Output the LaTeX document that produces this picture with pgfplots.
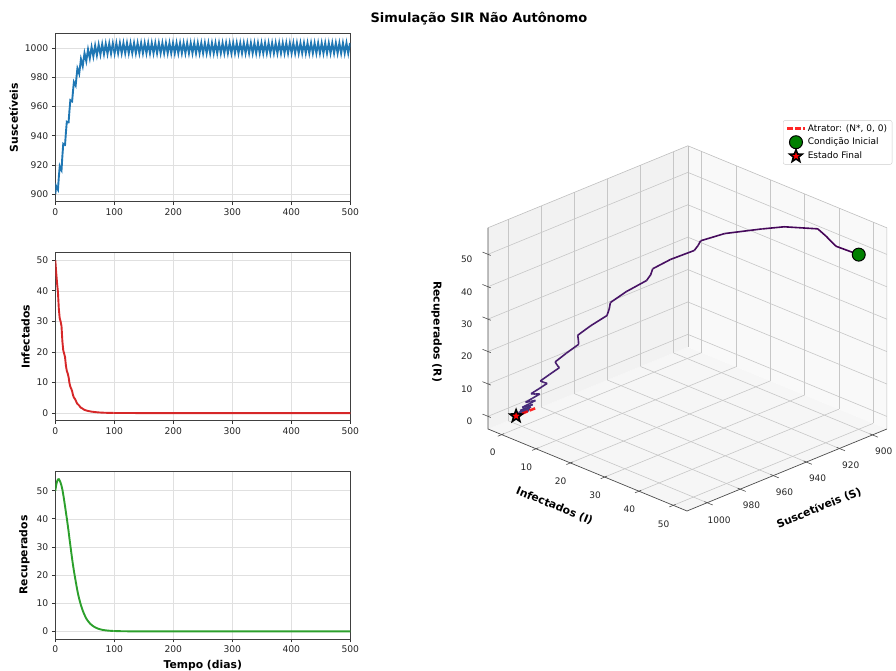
\documentclass[border=0pt]{standalone}
\usepackage{fontspec}
\setmainfont{DejaVu Sans}
\usepackage{pgfplots}
\usepackage{pgfplotstable}
\pgfplotsset{compat=1.18}
\usepgfplotslibrary{colormaps}
\definecolor{mplblue}{HTML}{1F77B4}
\definecolor{mplred}{HTML}{D62728}
\definecolor{mplgreen}{HTML}{2CA02C}
\definecolor{dkgreen}{HTML}{008000}

\pgfdeclareplotmark{fstar}{%
  \pgfpathmoveto{\pgfpointpolar{90}{\pgfplotmarksize}}%
  \pgfpathlineto{\pgfpointpolar{126}{0.42\pgfplotmarksize}}%
  \pgfpathlineto{\pgfpointpolar{162}{\pgfplotmarksize}}%
  \pgfpathlineto{\pgfpointpolar{198}{0.42\pgfplotmarksize}}%
  \pgfpathlineto{\pgfpointpolar{234}{\pgfplotmarksize}}%
  \pgfpathlineto{\pgfpointpolar{270}{0.42\pgfplotmarksize}}%
  \pgfpathlineto{\pgfpointpolar{306}{\pgfplotmarksize}}%
  \pgfpathlineto{\pgfpointpolar{342}{0.42\pgfplotmarksize}}%
  \pgfpathlineto{\pgfpointpolar{18}{\pgfplotmarksize}}%
  \pgfpathlineto{\pgfpointpolar{54}{0.42\pgfplotmarksize}}%
  \pgfpathclose
  \pgfusepathqfillstroke}

\pgfplotstableread{
t S I R
0 900.0 50.0 50.0
1.5 905.5 46.0 52.0
3 904.2 42.5 53.3
4.5 903.0 39.5 54.0
6 911.9 34.0 54.1
7.5 918.9 31.0 53.6
9 917.2 30.0 52.8
10.5 916.2 28.5 51.8
12 926.1 23.5 50.4
13.5 934.4 20.5 48.6
15 933.9 19.5 46.6
16.5 933.7 18.3 44.5
18 942.2 15.5 42.3
19.5 949.5 13.8 40.2
21 949.1 13.0 37.9
22.5 949.1 11.8 35.6
24 957.2 9.8 33.0
25.5 964.3 8.6 30.6
27 963.8 8.0 28.2
28.5 963.5 7.2 25.8
30 970.5 5.9 23.6
31.5 976.8 5.1 21.6
33 975.6 4.7 19.7
34.5 974.4 4.2 17.9
36 980.4 3.5 16.1
37.5 986.1 3.0 14.4
39 984.35 2.75 12.9
40.5 982.45 2.45 11.6
42 987.55 2.05 10.4
43.5 992.45 1.75 9.3
45 990.1 1.6 8.3
46.5 987.68 1.42 7.4
48 992.2 1.2 6.6
49.5 996.58 1.02 5.9
51 993.86 0.94 5.2
52.5 991.04 0.86 4.6
54 995.14 0.76 4.1
55.5 999.17 0.68 3.65
57 996.12 0.63 3.25
58.5 993.02 0.58 2.9
60 996.9 0.52 2.58
61.5 1000.74 0.46 2.3
63 997.52 0.43 2.05
64.5 994.28 0.39 1.83
66 998.02 0.35 1.63
67.5 1001.74 0.31 1.45
69 998.42 0.29 1.29
70.5 995.09 0.26 1.15
72 998.75 0.23 1.02
73.5 1002.38 0.21 0.91
75 999.0 0.19 0.81
76.5 995.61 0.17 0.72
78 999.2 0.155 0.64
79.5 1002.79 0.14 0.57
81 999.37 0.125 0.51
82.5 995.93 0.11 0.46
84 999.49 0.1 0.41
85.5 1003.04 0.09 0.37
87 999.59 0.082 0.33
88.5 996.13 0.074 0.3
90 999.66 0.066 0.27
91.5 1003.2 0.06 0.24
93 999.73 0.054 0.22
94.5 996.25 0.048 0.2
96 999.78 0.043 0.18
97.5 1003.3 0.039 0.16
99 999.82 0.035 0.15
}\tabA

\pgfplotstableread{
t S
99 999.82
100.5 996.3
103.5 1003.4
106.5 996.5
109.5 1003.5
112.5 996.5
115.5 1003.5
118.5 996.5
121.5 1003.5
124.5 996.5
127.5 1003.5
130.5 996.5
133.5 1003.5
136.5 996.5
139.5 1003.5
142.5 996.5
145.5 1003.5
148.5 996.5
151.5 1003.5
154.5 996.5
157.5 1003.5
160.5 996.5
163.5 1003.5
166.5 996.5
169.5 1003.5
172.5 996.5
175.5 1003.5
178.5 996.5
181.5 1003.5
184.5 996.5
187.5 1003.5
190.5 996.5
193.5 1003.5
196.5 996.5
199.5 1003.5
202.5 996.5
205.5 1003.5
208.5 996.5
211.5 1003.5
214.5 996.5
217.5 1003.5
220.5 996.5
223.5 1003.5
226.5 996.5
229.5 1003.5
232.5 996.5
235.5 1003.5
238.5 996.5
241.5 1003.5
244.5 996.5
247.5 1003.5
250.5 996.5
253.5 1003.5
256.5 996.5
259.5 1003.5
262.5 996.5
265.5 1003.5
268.5 996.5
271.5 1003.5
274.5 996.5
277.5 1003.5
280.5 996.5
283.5 1003.5
286.5 996.5
289.5 1003.5
292.5 996.5
295.5 1003.5
298.5 996.5
301.5 1003.5
304.5 996.5
307.5 1003.5
310.5 996.5
313.5 1003.5
316.5 996.5
319.5 1003.5
322.5 996.5
325.5 1003.5
328.5 996.5
331.5 1003.5
334.5 996.5
337.5 1003.5
340.5 996.5
343.5 1003.5
346.5 996.5
349.5 1003.5
352.5 996.5
355.5 1003.5
358.5 996.5
361.5 1003.5
364.5 996.5
367.5 1003.5
370.5 996.5
373.5 1003.5
376.5 996.5
379.5 1003.5
382.5 996.5
385.5 1003.5
388.5 996.5
391.5 1003.5
394.5 996.5
397.5 1003.5
400.5 996.5
403.5 1003.5
406.5 996.5
409.5 1003.5
412.5 996.5
415.5 1003.5
418.5 996.5
421.5 1003.5
424.5 996.5
427.5 1003.5
430.5 996.5
433.5 1003.5
436.5 996.5
439.5 1003.5
442.5 996.5
445.5 1003.5
448.5 996.5
451.5 1003.5
454.5 996.5
457.5 1003.5
460.5 996.5
463.5 1003.5
466.5 996.5
469.5 1003.5
472.5 996.5
475.5 1003.5
478.5 996.5
481.5 1003.5
484.5 996.5
487.5 1003.5
490.5 996.5
493.5 1003.5
496.5 996.5
499.5 1003.5
}\tabB

\pgfplotsset{
  sirbase/.style={
    scale only axis, width=295pt, height=168pt,
    xmin=0, xmax=500, xtick={0,100,...,500},
    grid=major, grid style={black!12, line width=0.5pt},
    axis line style={black!75, line width=0.8pt},
    tick align=outside, tick pos=left, major tick length=3.5pt,
    tick style={black!80, line width=0.8pt},
    ticklabel style={font=\fontsize{9.2}{10}\selectfont, text=black!85},
    /pgf/number format/assume math mode=true,
    /pgf/number format/1000 sep={},
    scaled ticks=false,
    label style={font=\bfseries\fontsize{10.8}{12}\selectfont},
  },
}

\begin{document}
\begin{tikzpicture}

\node[font=\bfseries\fontsize{13}{15}\selectfont] at (479pt,652pt) {Simulação SIR Não Autônomo};

% --- S(t)
\begin{axis}[sirbase, at={(55.3pt,469.3pt)}, anchor=south west,
  ymin=894.8, ymax=1009.9, ytick={900,920,...,1000},
  ylabel={Suscetíveis}]
\addplot[mplblue, line width=1.9pt] table[x=t, y=S] {\tabA};
\addplot[mplblue, line width=1.9pt] table[x=t, y=S] {\tabB};
\end{axis}

% --- I(t)
\begin{axis}[sirbase, at={(55.3pt,250.3pt)}, anchor=south west,
  ymin=-2.5, ymax=52.5, ytick={0,10,...,50},
  ylabel={Infectados}]
\addplot[mplred, line width=1.9pt] table[x=t, y=I] {\tabA};
\addplot[mplred, line width=1.9pt] coordinates {(99,0.035) (105,0.022) (115,0.01) (130,0.004) (150,0.001) (200,0) (500,0)};
\end{axis}

% --- R(t)
\begin{axis}[sirbase, at={(55.3pt,32pt)}, anchor=south west,
  ymin=-2.7, ymax=57.0, ytick={0,10,...,50},
  ylabel={Recuperados}, xlabel={Tempo (dias)}]
\addplot[mplgreen, line width=1.9pt] table[x=t, y=R] {\tabA};
\addplot[mplgreen, line width=1.9pt] coordinates {(99,0.15) (105,0.1) (115,0.05) (130,0.02) (150,0.005) (200,0) (500,0)};
\end{axis}

% --- 3D phase portrait
\coordinate (legpos) at (783pt,550.8pt);
\coordinate (xlabpos) at (819pt,163pt);
\coordinate (ylabpos) at (554.5pt,165pt);
\coordinate (zlabpos) at (436.7pt,339.3pt);
\begin{axis}[
  at={(488pt,160pt)}, anchor=south west,
  x={(-1.653pt,-0.678pt)}, y={(3.431pt,-1.414pt)}, z={(0pt,3.24pt)},
  xmin=891.3, xmax=1012.2, ymin=-4, ymax=54, zmin=-3.9, zmax=58.2,
  xtick={900,920,...,1000}, ytick={0,10,...,50}, ztick={0,10,...,50},
  clip=false, set layers,
  grid=major, grid style={black!22, line width=0.6pt},
  axis line style={draw=none},
  tick pos=left, major tick length=0pt,
  ticklabel style={font=\fontsize{9}{10}\selectfont, text=black!85},
  xticklabel style={xshift=5pt, yshift=-7pt},
  yticklabel style={xshift=-4pt, yshift=-10pt},
  zticklabel style={xshift=-12pt, yshift=-5pt},
  /pgf/number format/assume math mode=true,
  /pgf/number format/1000 sep={},
  scaled ticks=false,
  label style={font=\bfseries\fontsize{10.8}{12}\selectfont},
  xlabel={Suscetíveis (S)}, ylabel={Infectados (I)}, zlabel={Recuperados (R)},
  xlabel style={sloped like x axis, at={(xlabpos)}, anchor=center},
  ylabel style={sloped like y axis, at={(ylabpos)}, anchor=center},
  zlabel style={rotate=180, at={(zlabpos)}, anchor=center},
  colormap name=viridis, point meta min=0, point meta max=500,
  legend cell align=left,
  legend style={at={(legpos)}, anchor=north west, font=\fontsize{9}{10}\selectfont,
    draw=black!20, rounded corners=2pt, fill=white, row sep=1pt},
]
\begin{pgfonlayer}{axis background}
\fill[black!3.75] (axis cs:891.3,-4,-3.9) -- (axis cs:1012.2,-4,-3.9) -- (axis cs:1012.2,54,-3.9) -- (axis cs:891.3,54,-3.9) -- cycle;
\fill[black!2.5] (axis cs:891.3,-4,-3.9) -- (axis cs:891.3,54,-3.9) -- (axis cs:891.3,54,58.2) -- (axis cs:891.3,-4,58.2) -- cycle;
\fill[black!5] (axis cs:891.3,-4,-3.9) -- (axis cs:1012.2,-4,-3.9) -- (axis cs:1012.2,-4,58.2) -- (axis cs:891.3,-4,58.2) -- cycle;
\end{pgfonlayer}
% pane outlines
\draw[black!25, line width=0.6pt] (axis cs:1012.2,-4,58.2) -- (axis cs:891.3,-4,58.2) -- (axis cs:891.3,54,58.2) -- (axis cs:891.3,54,-3.9);
\draw[black!25, line width=0.6pt] (axis cs:891.3,-4,58.2) -- (axis cs:891.3,-4,-3.9);
% axis lines
\draw[black!70, line width=0.7pt] (axis cs:1012.2,-4,58.2) -- (axis cs:1012.2,-4,-3.9) -- (axis cs:1012.2,54,-3.9) -- (axis cs:891.3,54,-3.9);
% tick marks on the three labelled edges
\pgfplotsinvokeforeach{900,920,940,960,980,1000}{\draw[black!70, line width=0.6pt] (axis cs:#1,53.2,-3.9) -- (axis cs:#1,55.6,-3.9);}
\pgfplotsinvokeforeach{0,10,20,30,40,50}{\draw[black!70, line width=0.6pt] (axis cs:1010.8,#1,-3.9) -- (axis cs:1014.6,#1,-3.9);}
\pgfplotsinvokeforeach{0,10,20,30,40,50}{\draw[black!70, line width=0.6pt] (axis cs:1012.2,-3.2,#1) -- (axis cs:1012.2,-5.6,#1);}
\addplot3[mesh, mesh/rows=1, point meta=\thisrow{t}, line width=1.6pt, forget plot] table[x=S, y=I, z=R] {\tabA};
\addplot3[red, opacity=0.85, line width=2.5pt, dash pattern=on 6pt off 2pt] coordinates {(992,0,0) (1004,0,0)};
\addlegendentry{Atrator: (N*, 0, 0)}
\addplot3[only marks, mark=*, mark size=6.5pt, mark options={fill=dkgreen, draw=black, line width=1pt}] coordinates {(900,50,50)};
\addlegendentry{Condição Inicial}
\addplot3[only marks, mark=fstar, mark size=6.5pt, mark options={fill=red, draw=black, line width=1.6pt}] coordinates {(1003.5,0,0)};
\addlegendentry{Estado Final}
\end{axis}
\pgfresetboundingbox
\useasboundingbox (0pt,0pt) rectangle (896pt,671pt);
\end{tikzpicture}
\end{document}
